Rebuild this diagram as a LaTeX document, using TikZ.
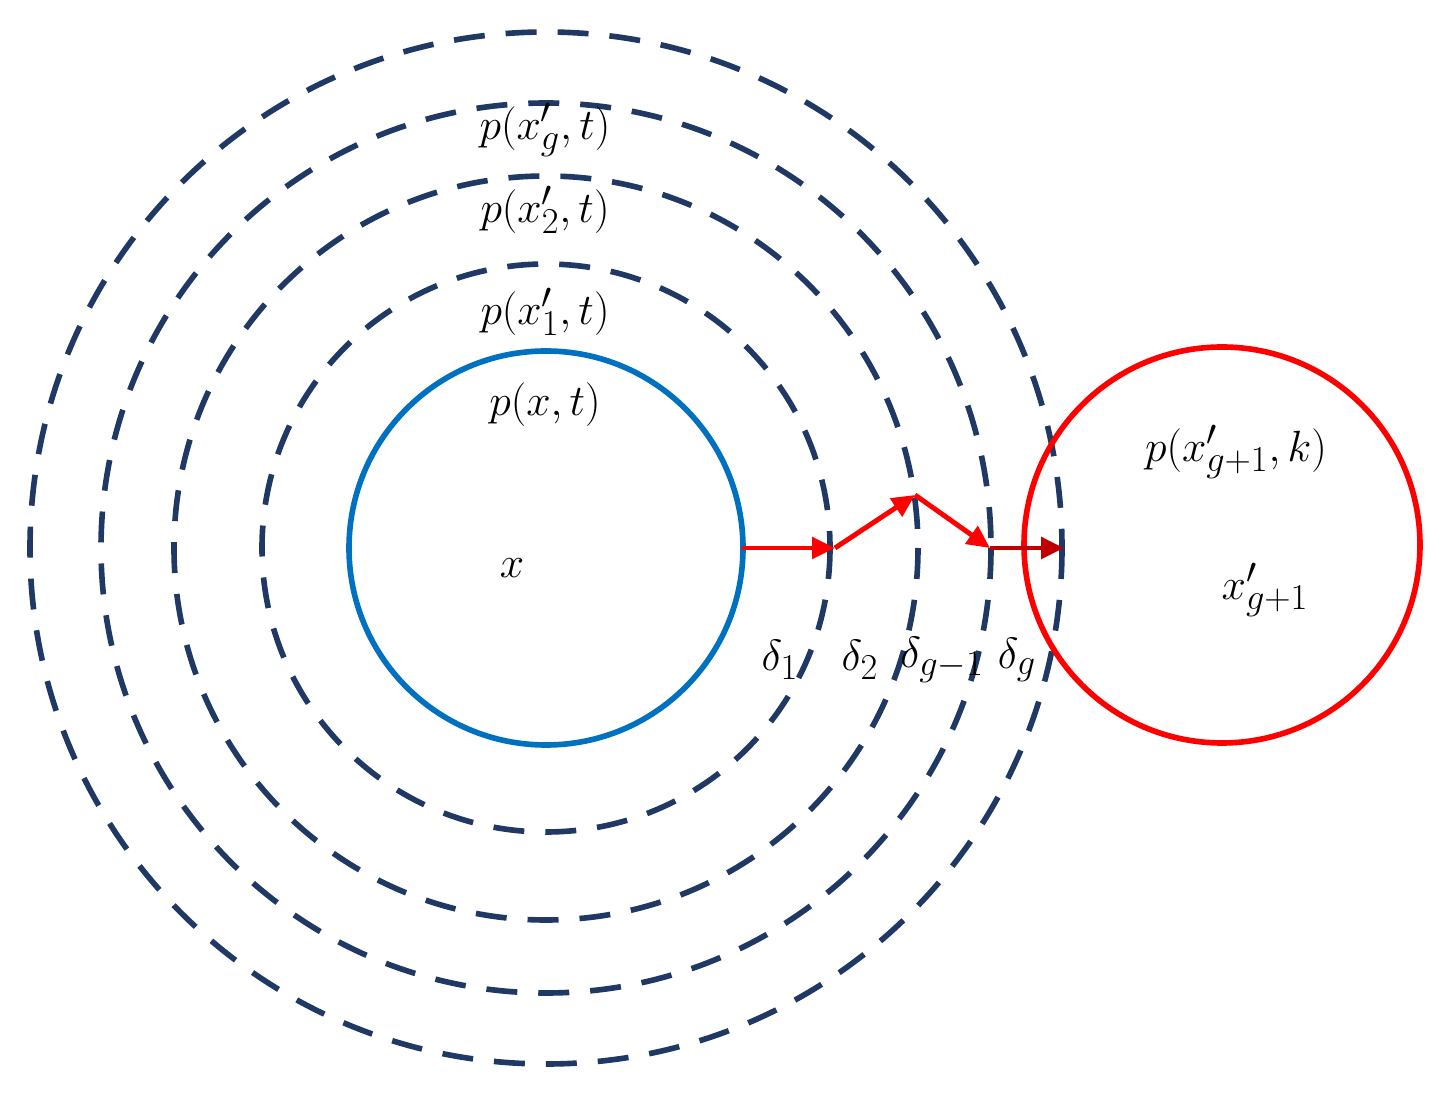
\documentclass[tikz,border=0pt]{standalone}
\usetikzlibrary{arrows.meta}
\definecolor{navy}{HTML}{1F3864}
\definecolor{cblue}{HTML}{0070C0}
\definecolor{dred}{HTML}{C00000}
\begin{document}
\begin{tikzpicture}[x=0.02cm,y=-0.02cm,
  dashcirc/.style={draw=navy,line width=3.2pt,dash pattern=on 0.62cm off 0.42cm},
  lbl/.style={font=\fontsize{28}{32}\selectfont},
  arr/.style={red,line width=2.8pt,-{Triangle[length=13pt,width=12pt]}}]
\useasboundingbox (0,0) rectangle (1451,1097);
\coordinate (c) at (546,548);
\draw[dashcirc] (c) circle[radius=284];
\draw[dashcirc] (c) circle[radius=372];
\draw[dashcirc] (c) circle[radius=445];
\draw[dashcirc] (c) circle[radius=516];
\draw[cblue,line width=3.2pt] (c) circle[radius=197];
\draw[red,line width=3.2pt] (1222,545) circle[radius=198];
\coordinate (a0) at (742,548);
\coordinate (a1) at (835,548);
\coordinate (a2) at (915,495);
\coordinate (a3) at (990,548);
\coordinate (a4) at (1064,548);
\draw[arr] (a0) -- (a1);
\draw[arr] (a1) -- (a2);
\draw[arr] (a2) -- (a3);
\draw[arr,dred] (a3) -- (a4);
\node[lbl] (lg) at (545,130) {$p(x'_g,t)$};
\node[lbl] (l2) at (545,210) {$p(x'_2,t)$};
\node[lbl] (l1) at (545,312) {$p(x'_1,t)$};
\node[lbl] (l0) at (545,405) {$p(x,t)$};
\node[font=\fontsize{44}{50}\selectfont] (x) at (512,568) {$x$};
\node[lbl] (d1) at (780,660) {$\delta_1$};
\node[lbl] (d2) at (860,660) {$\delta_2$};
\node[lbl] (d3) at (942,660) {$\delta_{g-1}$};
\node[lbl] (d4) at (1017,660) {$\delta_g$};
\node[lbl] (pk) at (1236,452) {$p(x'_{g+1},k)$};
\node[lbl] (xg) at (1265,590) {$x'_{g+1}$};
\end{tikzpicture}
\end{document}
